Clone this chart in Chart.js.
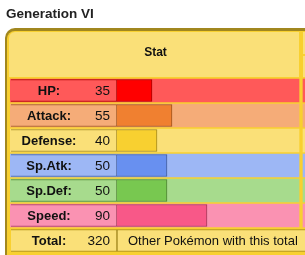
<!DOCTYPE html>
<html>
<head>
<meta charset="utf-8">
<script src="https://cdn.jsdelivr.net/npm/chart.js@4.4.0/dist/chart.umd.min.js"></script>
<style>
  body { margin: 0; background: #fff; }
  canvas { display: block; }
</style>
</head>
<body>
<canvas id="stats" width="305" height="255"></canvas>
<script>
// data
var statNames = ["HP", "Attack", "Defense", "Sp.Atk", "Sp.Def", "Speed", "Total"];
var statValues = [35, 55, 40, 50, 50, 90];
var statTotal = 320;
var title = "Generation VI";
var header = "Stat";
var totalNote = "Other Pokémon with this total";

// colours
var lightColors = ["#FF5959", "#F5AC78", "#FAE078", "#9DB7F5", "#A7DB8D", "#FA92B2", "#FAE078"];
var barColors = ["#FF0000", "#F08030", "#F8D030", "#6890F0", "#78C850", "#F85888"];
var edgeColors = ["#A60000", "#9C531F", "#A1871F", "#445E9C", "#4E8234", "#A13959", "#A1871F"];
var frameDark = "#A1871F";
var frameBg = "#F8D030";
var frameLight = "#FAE078";

var FONT = "'Liberation Sans', Arial, sans-serif";
var last = statNames.length - 1;

// x scale runs from left band edge (-107) to canvas edge, 0 = start of the bar
var bandLeft = statNames.map((n, i) => i < last ? [-107, 182] : null);
var bandRight = statNames.map((n, i) => i < last ? [186, 200] : null);
var labelCells = statNames.map(() => [-106, 0]);
var bars = statNames.map((n, i) => i < last ? [0, statValues[i]] : null);
var totalCell = statNames.map((n, i) => i < last ? null : [0, 200]);

function roundPath(ctx, x, y, w, h, r) {
  ctx.beginPath();
  ctx.moveTo(x + r, y);
  ctx.lineTo(x + w, y);
  ctx.lineTo(x + w, y + h);
  ctx.lineTo(x, y + h);
  ctx.lineTo(x, y + r);
  ctx.arcTo(x, y, x + r, y, r);
  ctx.closePath();
}

var tablePlugin = {
  id: "table",
  beforeDraw(chart) {
    var ctx = chart.ctx;
    ctx.save();
    ctx.fillStyle = "#fff";
    ctx.fillRect(0, 0, chart.width, chart.height);

    ctx.fillStyle = "#222";
    ctx.font = "bold 13.5px " + FONT;
    ctx.textBaseline = "alphabetic";
    ctx.fillText(title, 6, 17.5);

    ctx.fillStyle = frameDark;
    roundPath(ctx, 5, 28, 320, 250, 10);
    ctx.fill();
    ctx.fillStyle = frameBg;
    roundPath(ctx, 7, 31, 320, 250, 8);
    ctx.fill();

    ctx.fillStyle = frameLight;
    roundPath(ctx, 9, 32, 290, 45, 6);
    ctx.fill();
    ctx.fillRect(303, 32, 10, 22);
    ctx.fillRect(303, 56, 10, 21);
    ctx.restore();
  },
  afterDatasetsDraw(chart) {
    var ctx = chart.ctx;
    var y = chart.scales.y;
    ctx.save();
    ctx.fillStyle = "#111";
    ctx.textBaseline = "middle";

    ctx.font = "bold 12px " + FONT;
    ctx.textAlign = "center";
    ctx.fillText(header, 155.5, 53);

    statNames.forEach((name, i) => {
      var py = y.getPixelForValue(i) + 0.5;
      ctx.font = "bold 13px " + FONT;
      ctx.textAlign = "center";
      ctx.fillText(name + ":", 49, py);
      ctx.font = "13.5px " + FONT;
      ctx.textAlign = "right";
      ctx.fillText(String(i < last ? statValues[i] : statTotal), 110, py);
    });

    ctx.font = "13px " + FONT;
    ctx.textAlign = "left";
    ctx.fillText(totalNote, 128, y.getPixelForValue(last) + 0.5);
    ctx.restore();
  }
};

new Chart("stats", {
  type: "bar",
  data: {
    labels: statNames,
    datasets: [{
      data: bandLeft,
      backgroundColor: lightColors,
      borderWidth: 0,
      barThickness: 23,
      grouped: false,
      order: 5
    }, {
      data: bandRight,
      backgroundColor: lightColors,
      borderWidth: 0,
      barThickness: 23,
      grouped: false,
      order: 5
    }, {
      data: labelCells,
      backgroundColor: lightColors,
      borderColor: edgeColors,
      borderWidth: 1,
      borderSkipped: "right",
      barThickness: 22,
      grouped: false,
      order: 2
    }, {
      data: bars,
      backgroundColor: barColors,
      borderColor: edgeColors,
      borderWidth: 1,
      borderSkipped: "left",
      barThickness: 22,
      grouped: false,
      order: 1
    }, {
      data: totalCell,
      backgroundColor: frameLight,
      borderColor: frameDark,
      borderWidth: 1,
      borderSkipped: false,
      barThickness: 22,
      grouped: false,
      order: 1
    }]
  },
  options: {
    indexAxis: "y",
    responsive: false,
    animation: false,
    layout: { padding: { left: 10, right: 0, top: 78, bottom: 2 } },
    scales: {
      x: { type: "linear", min: -107, max: 188, display: false },
      y: { display: false }
    },
    plugins: {
      legend: { display: false },
      tooltip: { enabled: false }
    }
  },
  plugins: [tablePlugin]
});
</script>
</body>
</html>
